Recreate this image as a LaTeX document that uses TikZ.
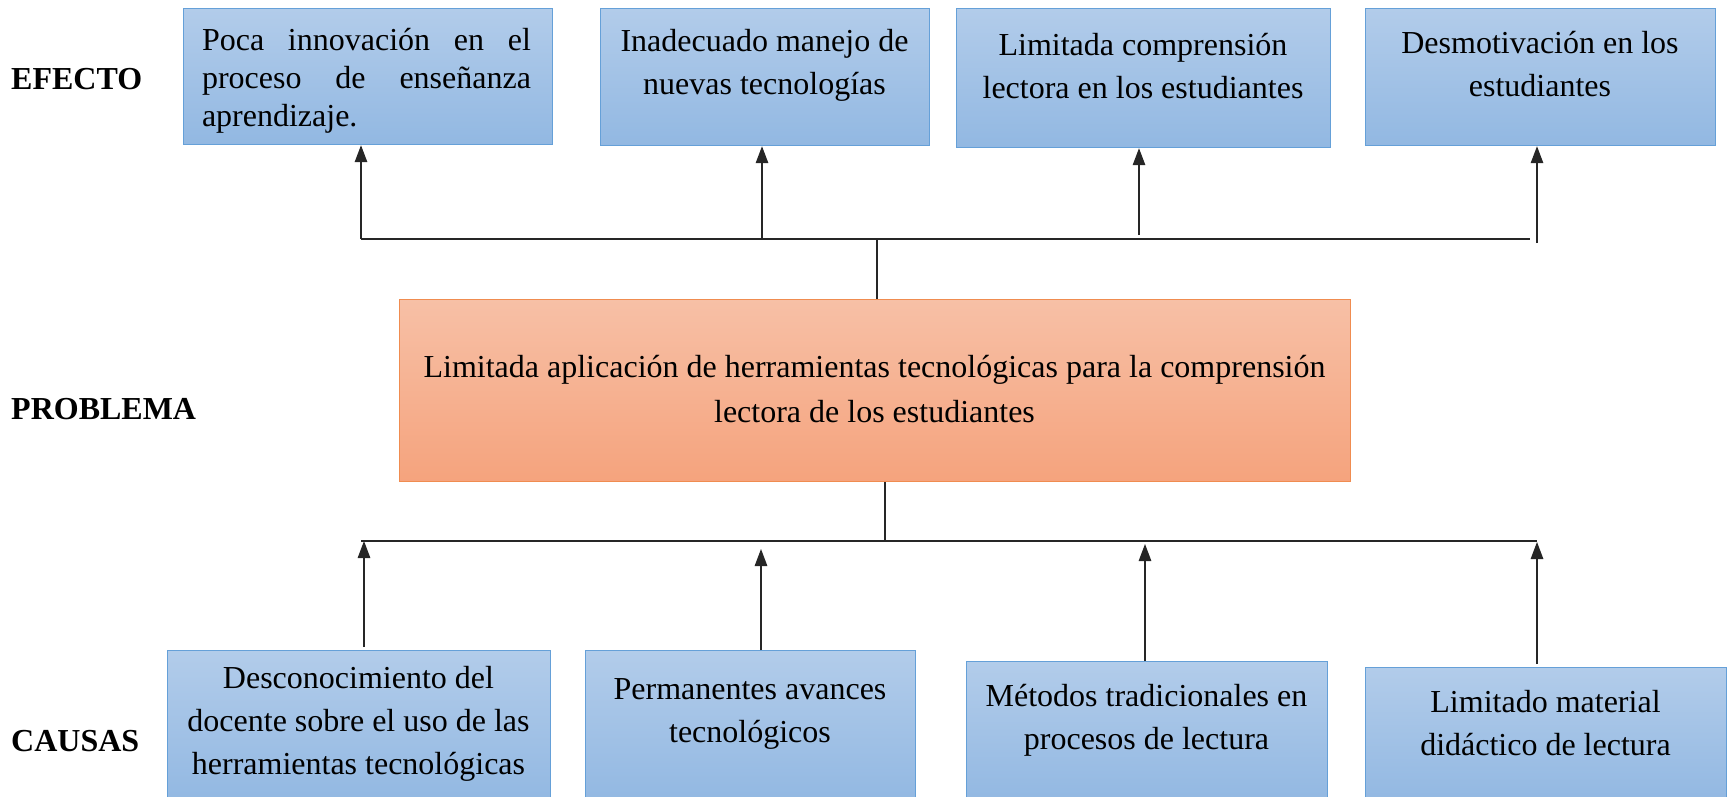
\documentclass[tikz,border=0pt]{standalone}
\usepackage{fontspec}
\setmainfont{Liberation Serif}
\usetikzlibrary{arrows.meta}
\definecolor{bluetop}{RGB}{178,204,234}
\definecolor{bluebot}{RGB}{146,184,226}
\definecolor{blueline}{RGB}{101,160,216}
\definecolor{orangetop}{RGB}{247,192,166}
\definecolor{orangebot}{RGB}{245,163,125}
\definecolor{orangeline}{RGB}{240,140,80}
\begin{document}
\begin{tikzpicture}[x=1pt,y=-1pt,
  bluebox/.style={rectangle, draw=blueline, line width=1.2pt, top color=bluetop, bottom color=bluebot, inner sep=0pt, anchor=north west},
  orangebox/.style={rectangle, draw=orangeline, line width=1.2pt, top color=orangetop, bottom color=orangebot, inner sep=0pt, anchor=north west},
  txt/.style={inner sep=0pt, align=center, font=\fontsize{32}{43}\selectfont},
  lbl/.style={inner sep=0pt, anchor=west, font=\fontsize{32}{38}\selectfont\bfseries},
  conn/.style={line width=1.3pt, draw=black!85},
  arr/.style={conn, -{Triangle[width=12.5pt,length=17pt]}}
]
\useasboundingbox (0,0) rectangle (1735,797);

% labels
\node[lbl] (efecto) at (11,78.6) {EFECTO};
\node[lbl] (problema) at (11,409) {PROBLEMA};
\node[lbl] (causas) at (11,741) {CAUSAS};

% effect boxes
\node[bluebox, minimum width=369pt, minimum height=136pt] (b1) at (183,8) {};
\node[bluebox, minimum width=329pt, minimum height=137pt] (b2) at (600,8) {};
\node[bluebox, minimum width=374pt, minimum height=139pt] (b3) at (956,8) {};
\node[bluebox, minimum width=350pt, minimum height=137pt] (b4) at (1365,8) {};

\node[txt, align=left, font=\fontsize{32}{38}\selectfont] (t1) at (366.5,81)
  {\makebox[329pt][s]{Poca innovación en el}\\\makebox[329pt][s]{proceso de enseñanza}\\aprendizaje.};
\node[txt] (t2) at (764.5,65.5) {Inadecuado manejo de\\nuevas tecnologías};
\node[txt] (t3) at (1143,66.5) {Limitada comprensión\\lectora en los estudiantes};
\node[txt] (t4) at (1540,64.5) {Desmotivación en los\\estudiantes};

% problem box
\node[orangebox, minimum width=951pt, minimum height=182pt] (p) at (399,299) {};
\node[txt, font=\fontsize{32}{44.5}\selectfont] (tp) at (874.5,389)
  {Limitada aplicación de herramientas tecnológicas para la comprensión\\lectora de los estudiantes};

% cause boxes
\node[bluebox, minimum width=383pt, minimum height=152pt] (c1) at (167,650) {};
\node[bluebox, minimum width=330pt, minimum height=152pt] (c2) at (585,650) {};
\node[bluebox, minimum width=361pt, minimum height=141pt] (c3) at (966,661) {};
\node[bluebox, minimum width=361pt, minimum height=135pt] (c4) at (1365,667) {};

\node[txt] (s1) at (358.5,723.5) {Desconocimiento del\\docente sobre el uso de las\\herramientas tecnológicas};
\node[txt] (s2) at (750,714) {Permanentes avances\\tecnológicos};
\node[txt] (s3) at (1146.5,720) {Métodos tradicionales en\\procesos de lectura};
\node[txt] (s4) at (1545.5,723.5) {Limitado material\\didáctico de lectura};

% top connector tree
\coordinate (e1) at (361,239);
\coordinate (e2) at (762,239);
\coordinate (e3) at (1139,235);
\coordinate (e4) at (1537,243);
\coordinate (etop) at (877,239);
\draw[conn] (361,239) -- (1530,239);
\draw[conn] (etop) -- (etop |- p.north);
\draw[arr] (e1) -- (e1 |- b1.south);
\draw[arr] (e2) -- (e2 |- b2.south);
\draw[arr] (e3) -- (e3 |- b3.south);
\draw[arr] (e4) -- (e4 |- b4.south);

% bottom connector tree
\coordinate (cbot) at (885,541);
\draw[conn] (cbot |- p.south) -- (cbot);
\draw[conn] (361,541) -- (1537,541);
\coordinate (k1) at (364,541);
\coordinate (k2) at (761,549);
\coordinate (k3) at (1145,544);
\coordinate (k4) at (1537,542);
\draw[arr] ([yshift=3pt]k1 |- c1.north) -- (k1);
\draw[arr] (k2 |- c2.north) -- (k2);
\draw[arr] (k3 |- c3.north) -- (k3);
\draw[arr] ([yshift=3pt]k4 |- c4.north) -- (k4);
\end{tikzpicture}
\end{document}
